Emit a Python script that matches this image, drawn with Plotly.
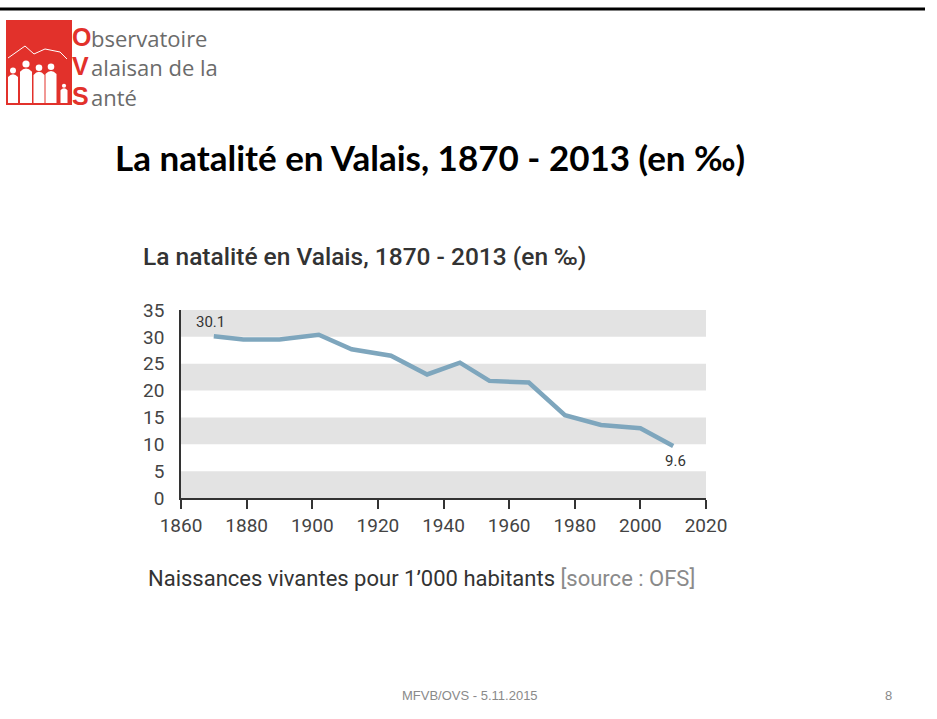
import plotly.graph_objects as go

# birth rate in Valais, per 1000 inhabitants
years = [1870, 1879, 1890, 1902, 1912, 1924, 1935, 1945, 1954, 1966, 1977, 1988, 2000, 2010]
rates = [30.1, 29.5, 29.5, 30.4, 27.7, 26.5, 23.0, 25.2, 21.8, 21.5, 15.4, 13.6, 13.0, 9.7]
labels = ["30.1", "", "", "", "", "", "", "", "", "", "", "", "", "9.6"]
x_ticks = [1860, 1880, 1900, 1920, 1940, 1960, 1980, 2000, 2020]
y_ticks = [0, 5, 10, 15, 20, 25, 30, 35]

W, H = 937, 719


def px(x):
    return x / W


def py(y):
    return 1 - y / H


fig = go.Figure()
fig.add_trace(go.Scatter(x=years, y=rates, mode="lines",
                         line=dict(color="#7ea6bd", width=4.5),
                         hoverinfo="x+y", showlegend=False))

# value labels at the first and last point
fig.add_annotation(x=years[0], y=rates[0], text=labels[0], showarrow=False,
                   yshift=14, xshift=-3, font=dict(size=15, color="#333333", family="Roboto"))
fig.add_annotation(x=years[-1], y=rates[-1], text=labels[-1], showarrow=False,
                   yshift=-15, xshift=2, font=dict(size=15, color="#333333", family="Roboto"))

shapes = []
# grey horizontal bands
for lo in range(0, 35, 10):
    shapes.append(dict(type="rect", xref="x domain", yref="y", x0=0, x1=1, y0=lo, y1=lo + 5,
                       fillcolor="#e3e3e3", line_width=0, layer="below"))

# slide top rule
shapes.append(dict(type="line", xref="paper", yref="paper", x0=0, x1=px(925), y0=py(9), y1=py(9),
                   line=dict(color="black", width=3)))

# logo block
shapes.append(dict(type="rect", xref="paper", yref="paper", x0=px(6), x1=px(72), y0=py(105), y1=py(20),
                   fillcolor="#e2312b", line_width=0))
shapes.append(dict(type="path", xref="paper", yref="paper",
                   path="M %f %f L %f %f L %f %f L %f %f L %f %f L %f %f" % (
                       px(8), py(58), px(25), py(46), px(34), py(54), px(45), py(49),
                       px(60), py(52), px(67), py(59)),
                   line=dict(color="white", width=1)))
# little white figures
for cx, top, w in [(13, 68, 10), (26, 61, 12), (39, 65, 11), (51, 64, 11), (64, 84, 7)]:
    shapes.append(dict(type="circle", xref="paper", yref="paper",
                       x0=px(cx - w * 0.3), x1=px(cx + w * 0.3), y0=py(top + w * 0.55), y1=py(top - w * 0.05),
                       fillcolor="white", line_width=0))
    shapes.append(dict(type="path", xref="paper", yref="paper",
                       path="M %f %f L %f %f Q %f %f %f %f L %f %f Z" % (
                           px(cx - w / 2), py(103), px(cx - w / 2), py(top + w * 0.9),
                           px(cx), py(top + w * 0.35), px(cx + w / 2), py(top + w * 0.9),
                           px(cx + w / 2), py(103)),
                       fillcolor="white", line_width=0))

annotations = []
for letter, rest, y in [("O", "bservatoire", 37), ("V", "alaisan de la", 66.5), ("S", "anté", 95.5)]:
    annotations.append(dict(xref="paper", yref="paper", x=px(71), y=py(y), xanchor="left", yanchor="middle",
                            text="<b>%s</b>" % letter, showarrow=False, borderpad=0,
                            font=dict(size=25, color="#e2312b", family="Liberation Sans")))
    annotations.append(dict(xref="paper", yref="paper", x=px(90), y=py(y + 1), xanchor="left", yanchor="middle",
                            text=rest, showarrow=False, borderpad=0,
                            font=dict(size=22, color="#6b6b6b", family="Open Sans")))

# slide title
annotations.append(dict(xref="paper", yref="paper", x=px(430), y=py(157), xanchor="center", yanchor="middle",
                        text="<b>La natalité en Valais, 1870 - 2013 (en ‰)</b>", showarrow=False,
                        font=dict(size=35, color="black", family="Lato")))
# chart title
annotations.append(dict(xref="paper", yref="paper", x=px(141), y=py(257), xanchor="left", yanchor="middle",
                        text="La natalité en Valais, 1870 - 2013 (en ‰)", showarrow=False,
                        font=dict(size=24.5, color="#333333", family="Roboto", weight=500)))
# caption
annotations.append(dict(xref="paper", yref="paper", x=px(146), y=py(578), xanchor="left", yanchor="middle",
                        text="Naissances vivantes pour 1’000 habitants <span style='color:#8a8a8a'>[source : OFS]</span>",
                        showarrow=False, font=dict(size=22, color="#333333", family="Roboto")))
# footer
annotations.append(dict(xref="paper", yref="paper", x=px(470), y=py(695), xanchor="center", yanchor="middle",
                        text="MFVB/OVS - 5.11.2015", showarrow=False,
                        font=dict(size=13, color="#8a8a8a", family="Liberation Sans")))
annotations.append(dict(xref="paper", yref="paper", x=px(888), y=py(695), xanchor="center", yanchor="middle",
                        text="8", showarrow=False,
                        font=dict(size=13, color="#8a8a8a", family="Liberation Sans")))

fig.update_layout(
    width=W, height=H,
    margin=dict(l=0, r=0, t=0, b=0, autoexpand=False),
    paper_bgcolor="white", plot_bgcolor="white",
    shapes=shapes,
    annotations=list(fig.layout.annotations) + annotations,
    xaxis=dict(domain=[px(181), px(706)], range=[1860, 2020], tickvals=x_ticks,
               showgrid=False, zeroline=False, showline=True, linecolor="#333333", linewidth=1.5,
               ticks="outside", ticklen=9, tickcolor="#333333", tickwidth=1.5,
               tickfont=dict(size=19, color="#444444", family="Roboto")),
    yaxis=dict(domain=[py(498), py(310)], range=[0, 35], tickvals=y_ticks,
               showgrid=False, zeroline=False, showline=True, linecolor="#333333", linewidth=1.5,
               ticks="", ticklabelstandoff=11,
               tickfont=dict(size=19, color="#444444", family="Roboto")),
)

# the page body has a default 8px margin; drop it so the slide fills the window
fig.write_html("out.html", config={"displayModeBar": False},
               post_script="document.body.style.margin = '0';")
